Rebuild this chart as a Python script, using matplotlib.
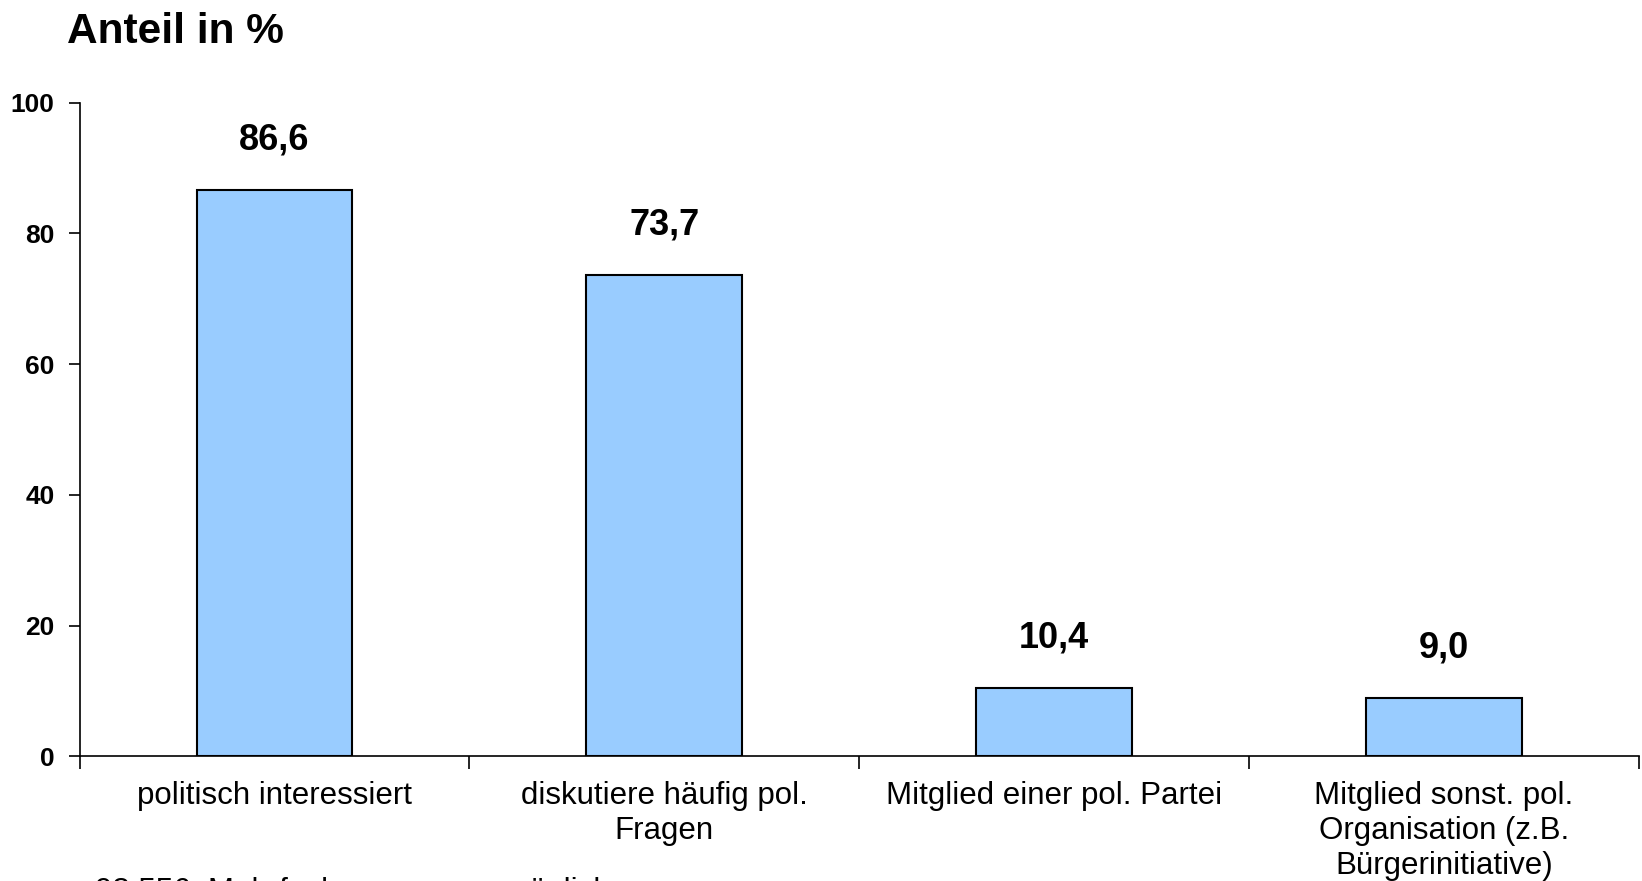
import matplotlib.pyplot as plt
import numpy as np

plt.rcParams['font.family'] = ['Liberation Sans', 'DejaVu Sans']

# Daten
kategorien = ['politisch interessiert',
              'diskutiere häufig pol.\nFragen',
              'Mitglied einer pol. Partei',
              'Mitglied sonst. pol.\nOrganisation (z.B.\nBürgerinitiative)']
anteile = [86.6, 73.7, 10.4, 9.0]
y_ticks = [0, 20, 40, 60, 80, 100]
fussnote = '98.556; Mehrfachnennungen möglich'

fig = plt.figure(figsize=(16.42, 8.81), dpi=100)
ax = fig.add_axes([0.0485, 0.1414, 0.9495, 0.742])

x = np.arange(len(kategorien))
bars = ax.bar(x, anteile, width=0.4, color='#99CCFF', edgecolor='black', linewidth=1.5, zorder=3)

# Werte über den Balken (Dezimalkomma)
for xi, v in zip(x, anteile):
    ax.annotate(f"{v:.1f}".replace('.', ','), xy=(xi, v), xytext=(0, 36),
                textcoords='offset points', ha='center', va='center',
                fontsize=26, fontweight='bold')

ax.set_xlim(-0.5, len(kategorien) - 0.5)
ax.set_ylim(0, 100)
ax.set_yticks(y_ticks)
ax.set_yticklabels([str(t) for t in y_ticks], fontsize=19, fontweight='bold')
ax.tick_params(axis='y', direction='out', length=8, width=1.2, pad=10)

# Kategorien-Beschriftung ohne Ticks, Trennstriche zwischen den Kategorien
ax.set_xticks(x)
ax.set_xticklabels(kategorien, fontsize=22.5, linespacing=1.2)
ax.tick_params(axis='x', length=0, pad=18)
ax.set_xticks(np.arange(-0.5, len(kategorien)), minor=True)
ax.tick_params(axis='x', which='minor', direction='out', length=9, width=1.2)

for s in ['top', 'right']:
    ax.spines[s].set_visible(False)
for s in ['left', 'bottom']:
    ax.spines[s].set_linewidth(1.2)

fig.text(0.041, 0.964, 'Anteil in %', fontsize=30.5, fontweight='bold', va='center', ha='left')
fig.text(0.058, 0.004, fussnote, fontsize=22.5, va='top', ha='left')

fig.savefig('out.png', dpi=100)
